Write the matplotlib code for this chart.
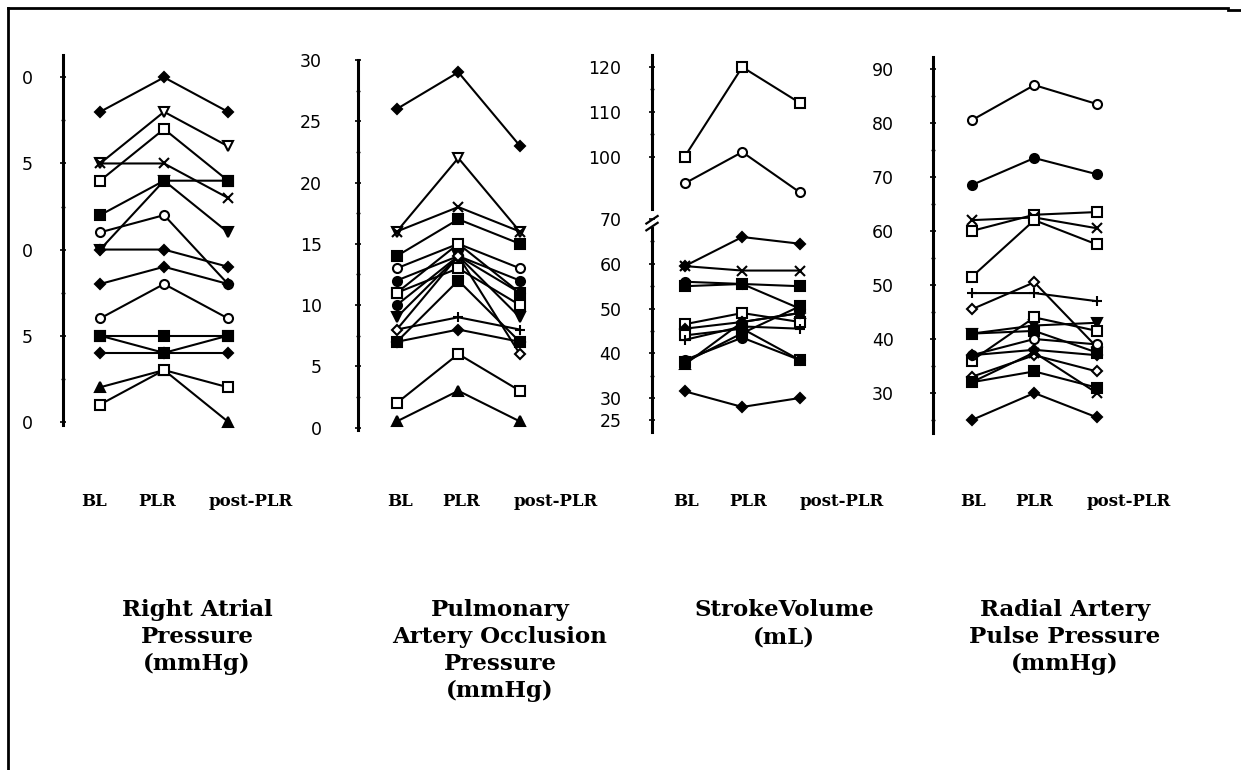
import numpy as np
import matplotlib
matplotlib.use('Agg')
import matplotlib.pyplot as plt
from matplotlib.lines import Line2D
from matplotlib.ticker import FixedLocator, MultipleLocator

W, H = 1241, 770
DPI = 100

STAGES = ['BL', 'PLR', 'post-PLR']

# ============== data: one row per patient, [BL, PLR, post-PLR] ==============
rap_values = [[18, 20, 18], [15, 18, 16], [14, 17, 14], [15, 15, 13],
              [12, 14, 14], [10, 14, 11], [11, 12, 8], [10, 10, 9],
              [8, 9, 8], [6, 8, 6], [5, 5, 5], [5, 4, 5], [4, 4, 4],
              [2, 3, 0], [1, 3, 2]]
rap_markers = ['D', 'v', 's', 'x', 's', 'v', 'o', 'D', 'D', 'o', 's', 's', 'D', '^', 's']
rap_filled = [1, 0, 0, 1, 1, 1, 0, 1, 1, 0, 1, 1, 1, 1, 0]

paop_values = [[26, 29, 23], [16, 22, 16], [16, 18, 16], [14, 17, 15],
               [13, 15, 13], [11, 15, 11], [12, 14, 12], [11, 13, 10],
               [10, 14, 11], [9, 14, 9], [8, 9, 8], [7, 8, 7], [7, 12, 7],
               [8, 14, 6], [2, 6, 3], [0.5, 3, 0.5]]
paop_markers = ['D', 'v', 'x', 's', 'o', 's', 'o', 's', 'o', 'v', '+', 'D', 's', 'D', 's', '^']
paop_filled = [1, 0, 1, 1, 0, 0, 1, 0, 1, 1, 1, 1, 1, 0, 0, 1]

sv_values = [[100, 120, 112], [94, 101, 92], [59.5, 66, 64.5], [59.5, 58.5, 58.5],
             [55, 55.5, 55], [56, 55.5, 50], [46.5, 49, 47], [45.5, 47, 49],
             [44, 45.5, 38.5], [43, 46, 45.5], [38, 44.5, 50.5], [38.5, 43.5, 38.5],
             [37.5, 47, 49], [31.5, 28, 30]]
sv_markers = ['s', 'o', 'D', 'x', 's', 'o', 's', 'D', 's', '+', 's', 'o', '^', 'D']
sv_filled = [0, 0, 1, 1, 1, 1, 0, 1, 0, 1, 1, 1, 1, 1]

pp_values = [[80.5, 87, 83.5], [68.5, 73.5, 70.5], [60, 63, 63.5], [62, 62.5, 60.5],
             [51.5, 62, 57.5], [48.5, 48.5, 47], [45.5, 50.5, 38.5], [41, 42.5, 43],
             [36, 44, 41.5], [41, 41.5, 37.5], [37, 40, 39], [37, 38, 37],
             [33, 37, 34], [32, 34, 31], [32, 37.5, 30], [25, 30, 25.5]]
pp_markers = ['o', 'o', 's', 'x', 's', '+', 'D', 'v', 's', 's', 'o', 'D', 'D', 's', 'x', 'D']
pp_filled = [0, 1, 0, 1, 0, 1, 0, 1, 0, 1, 0, 1, 0, 1, 1, 1]

rap_ticks = [0, 5, 10, 15, 20]
rap_ticklabels = ['0', '5', '0', '5', '0']
paop_ticks = [0, 5, 10, 15, 20, 25, 30]
sv_ticks = [25, 30, 40, 50, 60, 70, 100, 110, 120]
pp_ticks = [30, 40, 50, 60, 70, 80, 90]

titles = ['Right Atrial\nPressure\n(mmHg)',
          'Pulmonary\nArtery Occlusion\nPressure\n(mmHg)',
          'StrokeVolume\n(mL)',
          'Radial Artery\nPulse Pressure\n(mmHg)']


# stroke volume axis is broken between 70 and 90
def sv_fwd(v):
    v = np.asarray(v, dtype=float)
    return np.where(v <= 70, v, np.where(v >= 90, v - 16, 70 + (v - 70) * 0.2))


def sv_inv(y):
    y = np.asarray(y, dtype=float)
    return np.where(y <= 70, y, np.where(y >= 74, y + 16, 70 + (y - 70) * 5))


def px_axes(fig, left, top, right, bottom):
    return fig.add_axes([left / W, 1 - bottom / H, (right - left) / W, (bottom - top) / H])


def draw_panel(ax, values, markers, filled, xlim, ylim, ticks, ticklabels, minor, pad):
    x = np.arange(len(STAGES))
    for row, m, f in zip(values, markers, filled):
        ms = 5.5 if m == 'D' else (7 if m in ('x', '+') else 6.5)
        face = 'black' if f else 'white'
        if m in ('x', '+'):
            face = 'black'
        ax.plot(x, row, color='black', lw=1.5, marker=m, ms=ms,
                mfc=face, mec='black', mew=1.5, clip_on=False)
    ax.set_xlim(*xlim)
    ax.set_ylim(*ylim)
    for s in ['top', 'right', 'bottom']:
        ax.spines[s].set_visible(False)
    ax.spines['left'].set_linewidth(2.2)
    ax.set_xticks([])
    ax.yaxis.set_major_locator(FixedLocator(ticks))
    ax.set_yticklabels(ticklabels)
    if minor:
        ax.yaxis.set_minor_locator(MultipleLocator(minor))
    ax.tick_params(axis='y', which='major', direction='inout', length=4, width=1.2,
                   pad=pad, labelsize=12.5)
    ax.tick_params(axis='y', which='minor', direction='inout', length=3, width=1.0)
    ax.set_facecolor('none')


fig = plt.figure(figsize=(W / DPI, H / DPI), dpi=DPI)
plt.rcParams['font.family'] = 'DejaVu Sans'

# ---- 1. right atrial pressure ----
ax1 = px_axes(fig, 63, 55, 260, 425)
draw_panel(ax1, rap_values, rap_markers, rap_filled, (-0.58, 2.5), (-0.19, 21.3),
           rap_ticks, rap_ticklabels, 2.5, 20)

# ---- 2. pulmonary artery occlusion pressure ----
ax2 = px_axes(fig, 358, 60, 550, 430)
draw_panel(ax2, paop_values, paop_markers, paop_filled, (-0.63, 2.49), (-0.2, 30),
           paop_ticks, [str(t) for t in paop_ticks], 2.5, 24)

# ---- 3. stroke volume (broken axis) ----
ax3 = px_axes(fig, 652, 55, 840, 432)
ax3.set_yscale('function', functions=(sv_fwd, sv_inv))
draw_panel(ax3, sv_values, sv_markers, sv_filled, (-0.57, 2.7), (22.4, 122.7),
           sv_ticks, [str(t) for t in sv_ticks], None, 20)
ax3.yaxis.set_minor_locator(FixedLocator([35, 45, 55, 65, 105, 115]))
ax3.spines['left'].set_visible(False)
lo = ax3.transLimits.transform((0, sv_fwd(68)))[1]
hi = ax3.transLimits.transform((0, sv_fwd(81)))[1]
ax3.plot([0, 0], [0, lo], transform=ax3.transAxes, color='black', lw=2.2, clip_on=False)
ax3.plot([0, 0], [hi, 1], transform=ax3.transAxes, color='black', lw=2.2, clip_on=False)
for dy in (-0.006, 0.012):
    ax3.plot([-0.03, 0.03], [lo + dy, lo + dy + 0.02], transform=ax3.transAxes,
             color='black', lw=1.6, clip_on=False)

# ---- 4. radial artery pulse pressure ----
ax4 = px_axes(fig, 933, 57, 1130, 433)
draw_panel(ax4, pp_values, pp_markers, pp_filled, (-0.62, 2.53), (22.6, 92.2),
           pp_ticks, [str(t) for t in pp_ticks], 5, 26)

# ---- stage labels under each panel (pixel centres) ----
stage_px = [[94, 157, 251], [400, 461, 556], [686, 748, 842], [973, 1034, 1129]]
for row in stage_px:
    for xc, lab in zip(row, STAGES):
        fig.text(xc / W, 1 - 502 / H, lab, ha='center', va='center',
                 family='DejaVu Serif', weight='bold', fontsize=12)

# ---- panel titles ----
title_px = [197, 500, 784, 1065]
for xc, t in zip(title_px, titles):
    fig.text(xc / W, 1 - 599 / H, t, ha='center', va='top', family='DejaVu Serif',
             weight='bold', fontsize=16.5, linespacing=1.3)

# ---- page frame ----
fig.add_artist(Line2D([8 / W, 8 / W], [0, 1 - 8 / H], color='black', lw=2))
fig.add_artist(Line2D([8 / W, 1228 / W], [1 - 8 / H, 1 - 8 / H], color='black', lw=2))
fig.add_artist(Line2D([1228 / W, 1 - 1 / W], [1 - 10 / H, 1 - 10 / H], color='black', lw=2))

fig.savefig('out.png', dpi=DPI, facecolor='white')
plt.close(fig)
